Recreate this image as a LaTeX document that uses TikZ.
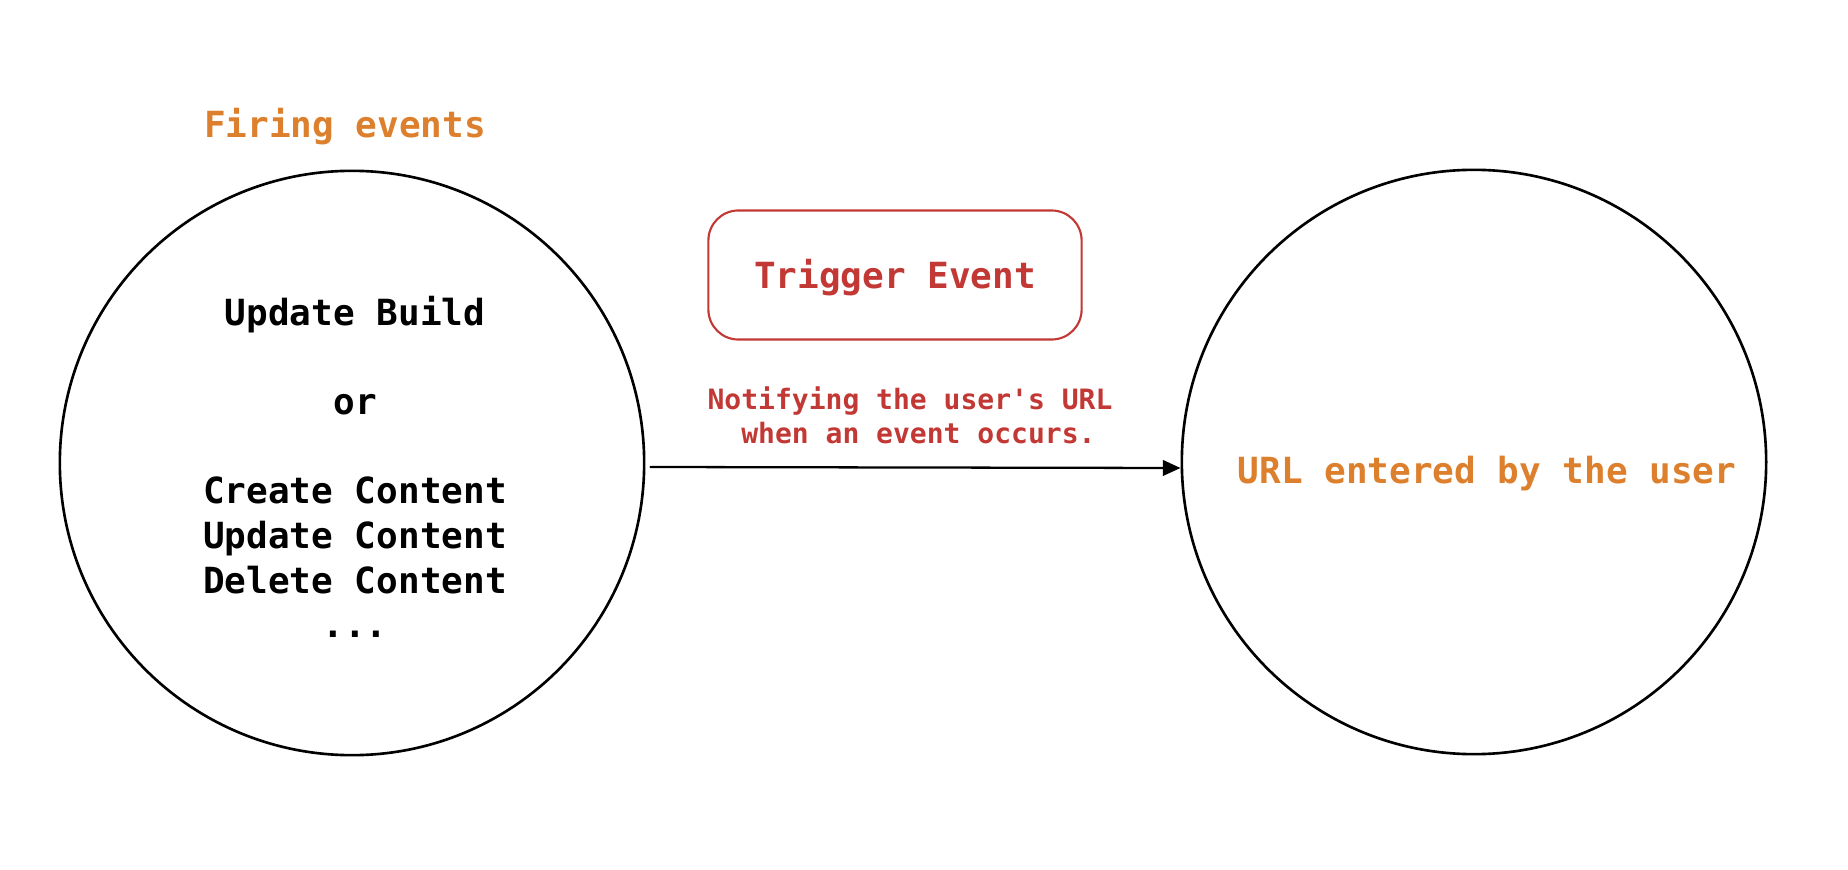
\documentclass[tikz,border=0pt]{standalone}
\usepackage{fontspec}
\setmonofont{DejaVu Sans Mono}
\usepackage{xcolor}
\usepackage{tikz}
\usetikzlibrary{arrows.meta}
\usetikzlibrary{calc}
\definecolor{evorange}{RGB}{221,128,46}
\definecolor{trigred}{RGB}{194,56,52}
\tikzset{>={Triangle[length=5pt,width=4.4pt]}}
\tikzset{bubble/.style={circle,draw=black,line width=0.75pt,minimum size=5.84cm,inner sep=0pt}}
\tikzset{bigtext/.style={font=\ttfamily\bfseries\fontsize{10.24}{12.69}\selectfont,inner sep=0pt}}
\tikzset{smalltext/.style={font=\ttfamily\bfseries\fontsize{7.97}{9.67}\selectfont,inner sep=0pt,text=trigred}}
\tikzset{trigbox/.style={draw=trigred,line width=0.6pt,rounded corners=0.3cm,minimum width=3.73cm,minimum height=1.29cm,text=trigred,text height=7.4pt,text depth=0pt}}

\begin{document}
\begin{tikzpicture}[line cap=round,line join=round,x=0.01cm,y=-0.01cm]
			\useasboundingbox (0,0) rectangle (1848,870);
			% the two circles
			\node[bubble] (fire) at (352,463) {};
			\node[bubble] (url) at (1474,462) {};
			\node[bigtext,text=evorange,anchor=base] (firetitle) at (345,138) {Firing events};
			\node[bigtext,align=center] (firelist) at (355,467) {Update Build\\[12.69pt]or\\[12.69pt]Create Content\\Update Content\\Delete Content\\...};
			\node[bigtext,text=evorange,anchor=base] (urltext) at (1487,483) {URL entered by the user};
			% trigger box and arrow
			\node[trigbox,bigtext,inner sep=0pt] (trig) at (895,275) {Trigger Event};
			\node[smalltext,align=center] (note) at (910,415) {Notifying the user's URL\\~when an event occurs.};
			\draw[->,line width=0.65pt] ($(fire.east)+(5,4)$) -- ($(url.west)+(0,6)$);
		\end{tikzpicture}
\end{document}
